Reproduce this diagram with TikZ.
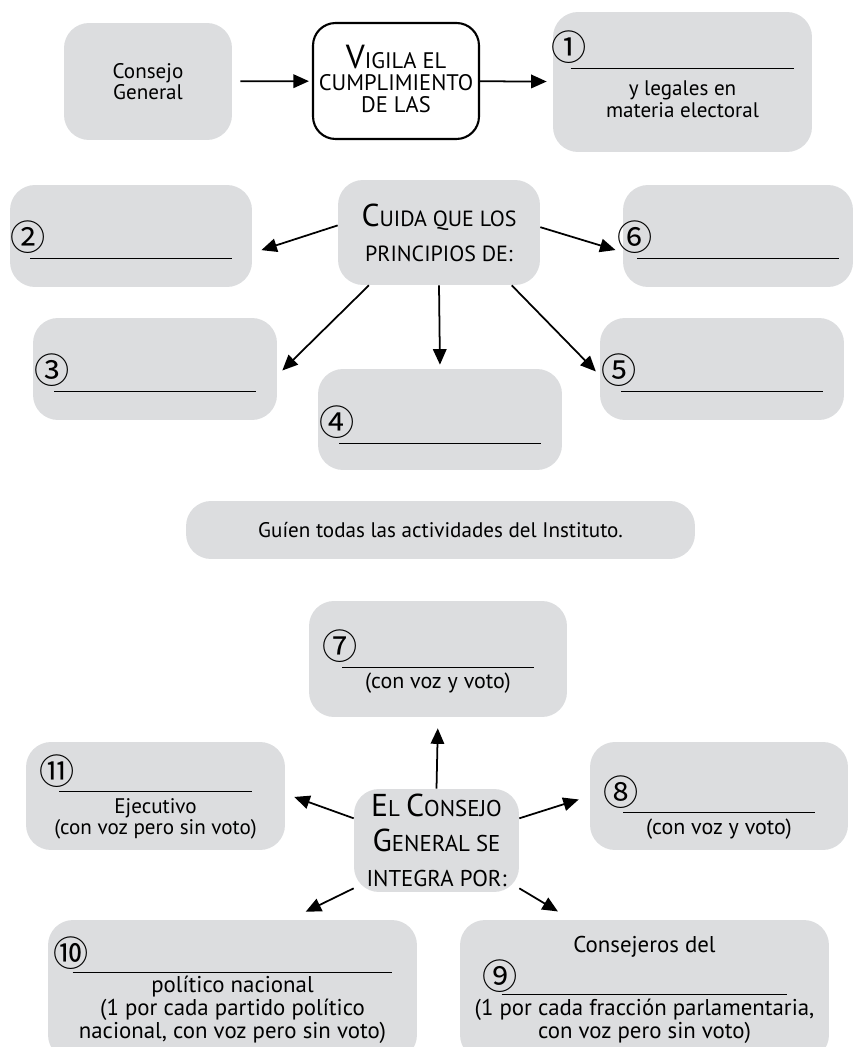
\documentclass[tikz,border=0pt]{standalone}
\usepackage{fontspec}
\setmainfont{PT Sans}
\newfontfamily\numfont{Noto Sans CJK SC}
\usetikzlibrary{arrows.meta}
\definecolor{boxgray}{HTML}{DCDDDF}

\newcommand\bodyfont{\fontsize{12}{10.5}\selectfont}
\newcommand\initcap[2]{{\fontsize{#1}{#1}\selectfont #2}}
% blank to fill in: width, circled number, strut height
\newcommand\blank[3]{\makebox[#1][l]{\rule{0pt}{#3}\hspace{-11pt}{\numfont\fontsize{20}{20}\selectfont #2}}\\[-6pt]\rule{#1}{0.5pt}}

\begin{document}
\begin{tikzpicture}[x=0.02cm, y=-0.02cm,
    box/.style={fill=boxgray, rounded corners=0.5cm, align=center, font=\bodyfont, inner sep=0pt},
    keybox/.style={draw, line width=1.2pt, fill=white, rounded corners=0.45cm, align=center, inner sep=0pt},
    arrow/.style={-{Triangle[length=3.1mm,width=2.7mm]}, line width=1pt}
  ]
  \useasboundingbox (0,0) rectangle (855,1047);
  \clip (0,0) rectangle (855,1047);

  % First row
  \node[box, minimum width=3.36cm, minimum height=2.34cm] (cg) at (148,81.5) {Consejo\\General};
  \node[keybox, font=\fontsize{12.8}{12.5}\selectfont, minimum width=3.32cm, minimum height=2.32cm] (vig) at (396,81) {\initcap{19}{V}IGILA EL\\CUMPLIMIENTO\\DE LAS\rule[-3pt]{0pt}{0pt}};
  \node[box, minimum width=5.18cm, minimum height=2.8cm] (n1) at (682.5,82) {\blank{4.48cm}{①}{0pt}\\[5pt]y legales en\\materia electoral\rule[-9pt]{0pt}{0pt}};

  \draw[arrow, shorten <=1.6mm, shorten >=0.6mm] (cg) -- (vig);
  \draw[arrow, shorten >=1.2mm] (vig) -- (n1);

  % Principles
  \node[box, font=\fontsize{12.5}{20}\selectfont, minimum width=4.04cm, minimum height=2.1cm] (cuida) at (439,232.5) {\initcap{18}{C}UIDA QUE LOS\\PRINCIPIOS DE:};
  \node[box, minimum width=4.84cm, minimum height=2.04cm] (n2) at (131,236) {\blank{4.04cm}{②}{21pt}};
  \node[box, minimum width=4.6cm, minimum height=2.04cm] (n6) at (738,236) {\blank{4.04cm}{⑥}{21pt}};
  \node[box, minimum width=4.88cm, minimum height=2.04cm] (n3) at (155,369) {\blank{4.04cm}{③}{21pt}};
  \node[box, minimum width=4.88cm, minimum height=2.02cm] (n4) at (440,419.5) {\blank{4.04cm}{④}{23pt}};
  \node[box, minimum width=4.88cm, minimum height=2.04cm] (n5) at (722,369) {\blank{4.04cm}{⑤}{21pt}};

  \draw[arrow, shorten >=1.9mm] (cuida.176) -- (n2.-8);
  \draw[arrow, shorten >=1.5mm] (cuida.3) -- (n6.188);
  \draw[arrow, shorten >=1.4mm] (cuida.217) -- (n3.-3);
  \draw[arrow, shorten >=0.8mm] (cuida.south) -- (n4.north);
  \draw[arrow, shorten >=1.1mm] (cuida.-36) -- (n5.183);

  \node[box, minimum width=10.18cm, minimum height=1.16cm] (guia) at (440.5,530) {Guíen todas las actividades del Instituto.};

  % Members of the council
  \node[box, font=\fontsize{12.5}{10.5}\selectfont, minimum width=5.16cm, minimum height=2.32cm] (n7) at (438,659) {\blank{3.84cm}{⑦}{20pt}\\[1.5pt](con voz y voto)};
  \node[box, font=\fontsize{13}{20}\selectfont, minimum width=3.3cm, minimum height=2.06cm] (integra) at (436.5,840.5) {\initcap{18}{E}L \initcap{18}{C}ONSEJO\\\initcap{18}{G}ENERAL SE\\INTEGRA POR:};
  \node[box, minimum width=5.18cm, minimum height=2.16cm] (n11) at (155.5,796) {\blank{3.86cm}{⑪}{18pt}\\[1.5pt]Ejecutivo\\(con voz pero sin voto)};
  \node[box, font=\fontsize{12.5}{10.5}\selectfont, minimum width=5.16cm, minimum height=2.16cm] (n8) at (719,796) {\blank{3.84cm}{⑧}{30pt}\\[1.5pt](con voz y voto)};
  \node[box, font=\fontsize{13}{9.5}\selectfont, minimum width=7.38cm, minimum height=2.8cm] (n10) at (232.5,990) {\blank{6.4cm}{⑩}{0pt}\\[2pt]político nacional\\(1 por cada partido político\\nacional, con voz pero sin voto)};
  \node[box, font=\fontsize{13}{9.5}\selectfont, minimum width=7.38cm, minimum height=2.8cm] (n9) at (644.5,990) {Consejeros del\\\blank{5.72cm}{⑨}{0pt}\\[2pt](1 por cada fracción parlamentaria,\\con voz pero sin voto)};

  \draw[arrow, shorten >=2.2mm] (integra.north) -- (n7.south);
  \draw[arrow, shorten >=1.9mm] (integra.165) -- (n11.1);
  \draw[arrow, shorten >=2.3mm] (integra.15) -- (n8.west);
  \draw[arrow, shorten >=3.6mm] (integra.210) -- (n10.51);
  \draw[arrow, shorten >=3.2mm] (integra.-30) -- (n9.136);
\end{tikzpicture}
\end{document}
